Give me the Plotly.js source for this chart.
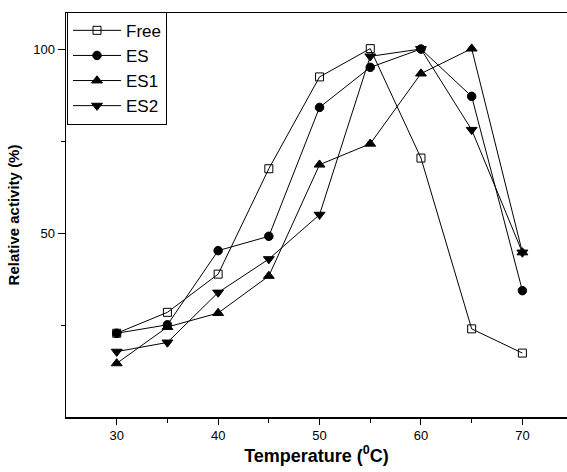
<!DOCTYPE html>
<html>
<head>
<meta charset="utf-8">
<script src="https://cdn.plot.ly/plotly-3.0.1.min.js"></script>
<style>
html,body{margin:0;padding:0;background:#fff;}
#chart{width:567px;height:472px;}
</style>
</head>
<body>
<div id="chart"></div>
<script>
const temperature = [30, 35, 40, 45, 50, 55, 60, 65, 70];
const freeVals = [22.8, 28.5, 38.9, 67.6, 92.6, 100.3, 70.5, 24.0, 17.4];
const esVals   = [22.8, 25.1, 45.3, 49.2, 84.3, 95.2, 100.2, 87.3, 34.4];
const es1Vals  = [14.6, 24.5, 28.3, 38.4, 68.7, 74.4, 93.5, 100.3, 44.8];
const es2Vals  = [17.8, 20.3, 33.9, 43.0, 55.1, 98.2, 100.2, 78.2, 44.8];
const seriesNames = ["Free", "ES", "ES1", "ES2"];

const lineStyle = {color: "#000", width: 1};
function trace(name, y, symbol, size) {
  return {
    x: temperature, y: y, name: name, type: "scatter", mode: "lines+markers",
    line: lineStyle,
    marker: {symbol: symbol, size: size, color: "#000",
             line: {color: "#000", width: 1}}
  };
}
const data = [
  trace(seriesNames[0], freeVals, "square-open", 8),
  trace(seriesNames[1], esVals, "circle", 8.5),
  trace(seriesNames[2], es1Vals, "triangle-up", 9.5),
  trace(seriesNames[3], es2Vals, "triangle-down", 9.5)
];

const layout = {
  width: 567, height: 472,
  margin: {l: 66, r: 0, t: 13, b: 55},
  paper_bgcolor: "#fff", plot_bgcolor: "#fff",
  font: {family: "Liberation Sans, Arial, sans-serif", color: "#000", size: 13},
  showlegend: true,
  legend: {
    x: 0.002, y: 1.003, xanchor: "left", yanchor: "top",
    bgcolor: "#fff", bordercolor: "#000", borderwidth: 1,
    font: {size: 17, color: "#000"},
    itemwidth: 48,
    tracegroupgap: 0
  },
  xaxis: {
    range: [25, 74.4], tickvals: [30, 40, 50, 60, 70],
    ticks: "outside", ticklen: 6, tickwidth: 1, tickcolor: "#000",
    minor: {tickvals: [35, 45, 55, 65], ticks: "outside", ticklen: 4, tickcolor: "#000"},
    showline: true, linecolor: "#000", linewidth: 1.5, mirror: true,
    showgrid: false, zeroline: false,
    tickfont: {size: 13},
    title: {text: "Temperature (<sup>0</sup>C)", font: {size: 18, family: "Liberation Sans, Arial, sans-serif", weight: "bold"}, standoff: 6}
  },
  yaxis: {
    range: [0, 110], tickvals: [50, 100],
    ticks: "outside", ticklen: 7, tickwidth: 1, tickcolor: "#000",
    minor: {tickvals: [25, 75], ticks: "outside", ticklen: 4, tickcolor: "#000"},
    showline: true, linecolor: "#000", linewidth: 1.5, mirror: true,
    showgrid: false, zeroline: false,
    tickfont: {size: 13},
    title: {text: "Relative activity (%)", font: {size: 15, family: "Liberation Sans, Arial, sans-serif", weight: "bold"}, standoff: 10}
  }
};

Plotly.newPlot("chart", data, layout, {staticPlot: true, displayModeBar: false});
</script>
</body>
</html>
